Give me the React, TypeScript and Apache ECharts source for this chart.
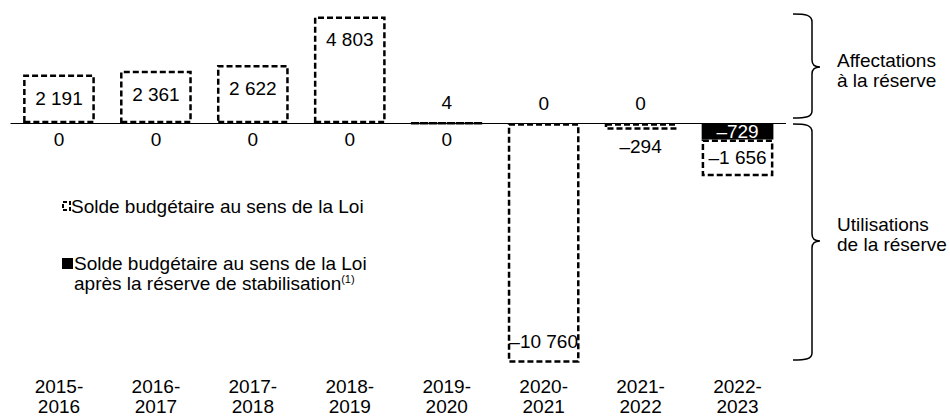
import React, { useEffect, useRef } from "react";
import * as echarts from "echarts";

const categories = ["2015-2016", "2016-2017", "2017-2018", "2018-2019", "2019-2020", "2020-2021", "2021-2022", "2022-2023"];
// Affectations à la réserve (solde au sens de la Loi, positive part); null = no label
const affectations: (number | null)[] = [2191, 2361, 2622, 4803, 4, 0, 0, null];
// Solde budgétaire après la réserve de stabilisation (black)
const apresReserve = [0, 0, 0, 0, 0, 0, 0, -729];
// Utilisations de la réserve (solde au sens de la Loi, negative part)
const utilisations = [0, 0, 0, 0, 0, -10760, -294, -1656];

const FONT = 'Arial, "Liberation Sans", sans-serif';
const FS = 19;

function fmt(v: number): string {
  const s = Math.abs(v).toString().replace(/\B(?=(\d{3})+(?!\d))/g, " ");
  return (v < 0 ? "\u2013" : "") + s;
}

const braceTopD =
  "M793,14 C806,14 812,15 812,22 L812,60 C812,65 815,67 820,67 C815,67 812,69 812,74 L812,111 C812,117 806,118 793,118";
const braceBottomD =
  "M793,124 C806,124 812,125 812,132 L812,234 C812,239 815,241 820,241 C815,241 812,243 812,248 L812,353 C812,359 806,360 793,360";

let registered = false;
function registerShapes() {
  if (registered) return;
  registered = true;
  echarts.graphic.registerShape("braceTop", echarts.graphic.extendPath(braceTopD, {}) as any);
  echarts.graphic.registerShape("braceBottom", echarts.graphic.extendPath(braceBottomD, {}) as any);
}

export default function App() {
  const ref = useRef<HTMLDivElement>(null);
  useEffect(() => {
    if (!ref.current) return;
    registerShapes();
    const chart = echarts.init(ref.current, undefined, { renderer: "svg" });
    const dashed = {
      color: "#fff",
      borderColor: "#000",
      borderWidth: 2.5,
      borderType: [6, 3] as any,
    };
    const baseLabel = {
      show: true,
      color: "#000",
      fontSize: FS,
      fontFamily: FONT,
      formatter: (p: any) => fmt(p.value),
    };
    const option: any = {
      animation: false,
      grid: { left: 10.5, right: 164, top: 12, bottom: 50, containLabel: false },
      xAxis: {
        type: "category",
        data: categories,
        axisLine: { show: false, onZero: false },
        axisTick: { show: false },
        splitLine: { show: false },
        axisLabel: {
          color: "#000",
          fontSize: FS,
          fontFamily: FONT,
          lineHeight: 20,
          margin: 8,
          interval: 0,
          formatter: (v: string) => v.replace("-", "-\n"),
        },
      },
      yAxis: { type: "value", min: -11000, max: 5000, show: false, splitLine: { show: false } },
      series: [
        {
          name: "Affectations",
          type: "bar",
          barWidth: "74%",
          barGap: "-100%",
          itemStyle: dashed,
          label: baseLabel,
          z: 2,
          data: affectations.map((v) =>
            v === null
              ? { value: 0, label: { show: false }, itemStyle: { borderWidth: 0, color: "transparent" } }
              : {
                  value: v,
                  label: v > 100 ? { position: "insideTop", distance: 14 } : { position: "top", distance: 10 },
                  itemStyle: v === 0 ? { borderWidth: 0, color: "transparent" } : undefined,
                }
          ),
          markLine: {
            silent: true,
            symbol: "none",
            label: { show: false },
            lineStyle: { color: "#000", width: 1, type: "solid" },
            data: [{ yAxis: 0 }],
          },
        },
        {
          name: "Solde budgétaire au sens de la Loi après la réserve de stabilisation",
          type: "bar",
          stack: "neg",
          barWidth: "74%",
          barGap: "-100%",
          itemStyle: { color: "#000" },
          label: { ...baseLabel, color: "#fff", position: "inside" },
          z: 3,
          data: apresReserve.map((v) => ({
            value: v,
            label: v === 0 ? { show: false } : undefined,
          })),
        },
        {
          name: "Utilisations",
          type: "bar",
          stack: "neg",
          barWidth: "74%",
          barGap: "-100%",
          itemStyle: dashed,
          label: baseLabel,
          z: 2,
          data: utilisations.map((v) => ({
            value: v,
            label:
              Math.abs(v) > 5000
                ? { position: "insideBottom", distance: 12 }
                : Math.abs(v) > 1000
                ? { position: "inside" }
                : { position: "bottom", distance: 7 },
            itemStyle: v === 0 ? { borderWidth: 0, color: "transparent" } : undefined,
          })),
        },
      ],
      graphic: [
        { type: "braceTop", x: 0, y: 0, shape: {}, style: { stroke: "#000", fill: "none", lineWidth: 1.5 } },
        { type: "braceBottom", x: 0, y: 0, shape: {}, style: { stroke: "#000", fill: "none", lineWidth: 1.5 } },
        {
          type: "text",
          x: 837,
          y: 50,
          style: { text: "Affectations\nà la réserve", fill: "#000", font: `${FS}px ${FONT}`, lineHeight: 20, align: "left", verticalAlign: "top" },
        },
        {
          type: "text",
          x: 837,
          y: 214,
          style: { text: "Utilisations\nde la réserve", fill: "#000", font: `${FS}px ${FONT}`, lineHeight: 20, align: "left", verticalAlign: "top" },
        },
        {
          type: "rect",
          shape: { x: 63, y: 202, width: 7, height: 8 },
          style: { fill: "#fff", stroke: "#000", lineWidth: 2, lineDash: [4, 2] },
        },
        {
          type: "text",
          x: 71,
          y: 206,
          style: { text: "Solde budgétaire au sens de la Loi", fill: "#000", font: `${FS}px ${FONT}`, align: "left", verticalAlign: "middle" },
        },
        {
          type: "rect",
          shape: { x: 62, y: 258, width: 11, height: 11 },
          style: { fill: "#000" },
        },
        {
          type: "text",
          x: 74,
          y: 253,
          style: {
            text: "{a|Solde budgétaire au sens de la Loi}\n{a|après la réserve de stabilisation}{s|(1)}",
            fill: "#000",
            align: "left",
            verticalAlign: "top",
            rich: {
              a: { fontSize: FS, fontFamily: FONT, lineHeight: 20, fill: "#000" },
              s: { fontSize: 11, fontFamily: FONT, lineHeight: 20, verticalAlign: "top", fill: "#000" },
            },
          },
        },
      ],
    };
    chart.setOption(option);
    return () => chart.dispose();
  }, []);
  return <div ref={ref} style={{ position: "absolute", left: 0, top: 0, width: 950, height: 418 }} />;
}
